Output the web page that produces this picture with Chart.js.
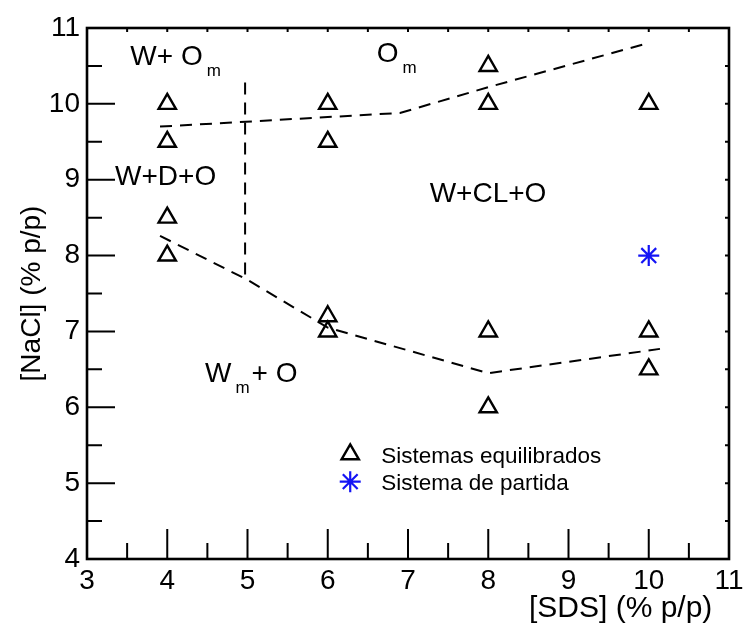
<!DOCTYPE html>
<html>
<head>
<meta charset="utf-8">
<script src="https://cdn.jsdelivr.net/npm/chart.js@4.4.1/dist/chart.umd.min.js"></script>
<style>
  html, body { margin: 0; background: #fff; }
</style>
</head>
<body>
<canvas id="chart" width="743" height="628"></canvas>
<script>
// === Data ===
const triX = [4, 4, 4, 4, 6, 6, 6, 6, 8, 8, 8, 8, 10, 10, 10];
const triY = [10, 9.5, 8.5, 8, 10, 9.5, 7.2, 7.0, 10.5, 10, 7, 6, 10, 7, 6.5];
const startX = [10];
const startY = [8];

const upperX = [3.91, 6.9, 8, 9.99];
const upperY = [9.70, 9.88, 10.22, 10.80];
const lowerX = [3.91, 5, 6, 8, 10.14];
const lowerY = [8.26, 7.68, 7.05, 6.45, 6.77];
const splitX = [4.97, 4.97];
const splitY = [10.28, 7.70];

const xTicks = [3, 4, 5, 6, 7, 8, 9, 10, 11];
const yTicks = [4, 5, 6, 7, 8, 9, 10, 11];

const legendNames = ["Sistemas equilibrados", "Sistema de partida"];

// region labels: [text, isSubscript]
const regionLabels = [
  { x: 3.54, y: 10.51, parts: [["W+ O", 0], ["m", 1]] },
  { x: 6.61, y: 10.55, parts: [["O", 0], ["m", 1]] },
  { x: 3.35, y: 8.93, parts: [["W+D+O", 0]] },
  { x: 7.27, y: 8.71, parts: [["W+CL+O", 0]] },
  { x: 4.47, y: 6.33, parts: [["W", 0], ["m", 1], ["+ O", 0]] },
];

const FONT = "'Liberation Sans', Arial, sans-serif";
const BLUE = "#1414f5";

const toPts = (xs, ys) => xs.map((x, i) => ({ x: x, y: ys[i] }));

const triStyle = { pointStyle: "triangle", radius: 10, borderWidth: 2.4, borderColor: "#000", backgroundColor: "#fff" };
const starStyle = { pointStyle: "star", radius: 10.5, borderWidth: 2.2, borderColor: BLUE, backgroundColor: BLUE };

// === Frame, inward ticks, labels, legend ===
const framePlugin = {
  id: "frame",
  afterDraw(chart) {
    const ctx = chart.ctx;
    const a = chart.chartArea;
    const xs = chart.scales.x;
    const ys = chart.scales.y;
    ctx.save();
    ctx.strokeStyle = "#000";
    ctx.lineWidth = 2;
    xs.ticks.forEach((t) => {
      const px = xs.getPixelForValue(t.value);
      const major = Number.isInteger(t.value);
      ctx.beginPath();
      ctx.moveTo(px, a.bottom);
      ctx.lineTo(px, a.bottom - (major ? 30 : 16));
      ctx.moveTo(px, a.top);
      ctx.lineTo(px, a.top + 4);
      ctx.stroke();
    });
    ys.ticks.forEach((t) => {
      const py = ys.getPixelForValue(t.value);
      const major = Number.isInteger(t.value);
      ctx.beginPath();
      ctx.moveTo(a.left, py);
      ctx.lineTo(a.left + (major ? 28 : 15), py);
      ctx.moveTo(a.right, py);
      ctx.lineTo(a.right - 4, py);
      ctx.stroke();
    });
    ctx.lineWidth = 2.6;
    ctx.strokeRect(a.left, a.top, a.right - a.left, a.bottom - a.top);

    // region labels
    ctx.fillStyle = "#000";
    ctx.textBaseline = "alphabetic";
    ctx.textAlign = "left";
    regionLabels.forEach((lab) => {
      let px = xs.getPixelForValue(lab.x);
      const py = ys.getPixelForValue(lab.y);
      lab.parts.forEach(([txt, sub]) => {
        if (sub) {
          ctx.font = "17px " + FONT;
          px += 4;
          ctx.fillText(txt, px, py + 11);
          px += ctx.measureText(txt).width + 2;
        } else {
          ctx.font = "28px " + FONT;
          ctx.fillText(txt, px, py);
          px += ctx.measureText(txt).width;
        }
      });
    });

    // legend
    const lx = xs.getPixelForValue(6.28);
    const rows = [
      { y: ys.getPixelForValue(5.38), style: triStyle },
      { y: ys.getPixelForValue(5.02), style: starStyle },
    ];
    ctx.font = "22.5px " + FONT;
    ctx.textBaseline = "middle";
    rows.forEach((r, i) => {
      ctx.lineWidth = r.style.borderWidth;
      ctx.strokeStyle = r.style.borderColor;
      ctx.fillStyle = r.style.backgroundColor;
      Chart.helpers.drawPoint(ctx, { pointStyle: r.style.pointStyle, radius: r.style.radius, rotation: 0, borderWidth: r.style.borderWidth }, lx, r.y);
      ctx.fillStyle = "#000";
      ctx.fillText(legendNames[i], lx + 31, r.y + 2);
    });
    ctx.restore();
  },
};

const dashed = { showLine: true, borderColor: "#000", borderWidth: 2, borderDash: [12, 8], pointRadius: 0, fill: false, tension: 0 };

new Chart(document.getElementById("chart"), {
  type: "scatter",
  data: {
    datasets: [
      Object.assign({ data: toPts(upperX, upperY) }, dashed),
      Object.assign({ data: toPts(lowerX, lowerY) }, dashed),
      Object.assign({ data: toPts(splitX, splitY) }, dashed),
      {
        data: toPts(triX, triY),
        pointStyle: triStyle.pointStyle,
        pointRadius: triStyle.radius,
        pointBorderWidth: triStyle.borderWidth,
        pointBorderColor: triStyle.borderColor,
        pointBackgroundColor: triStyle.backgroundColor,
      },
      {
        data: toPts(startX, startY),
        pointStyle: starStyle.pointStyle,
        pointRadius: starStyle.radius,
        pointBorderWidth: starStyle.borderWidth,
        pointBorderColor: starStyle.borderColor,
        pointBackgroundColor: starStyle.backgroundColor,
      },
    ],
  },
  options: {
    responsive: false,
    animation: false,
    devicePixelRatio: 1,
    layout: { padding: { top: 28, right: 14, left: 0, bottom: 0 } },
    plugins: { legend: { display: false }, tooltip: { enabled: false } },
    scales: {
      x: {
        type: "linear",
        min: 3,
        max: 11,
        grid: { display: false, drawTicks: false },
        border: { display: false },
        afterFit: (s) => { s.height = 69; s.paddingLeft = 0; s.paddingRight = 0; },
        ticks: {
          stepSize: 0.5,
          autoSkip: false,
          maxRotation: 0,
          padding: 5,
          color: "#000",
          font: { family: FONT, size: 28 },
          callback: (v) => (xTicks.includes(v) ? String(v) : ""),
        },
        title: {
          display: true,
          text: "[SDS] (% p/p)  ",
          align: "end",
          color: "#000",
          font: { family: FONT, size: 30 },
          padding: { top: 0, bottom: 1 },
        },
      },
      y: {
        type: "linear",
        min: 4,
        max: 11,
        grid: { display: false, drawTicks: false },
        border: { display: false },
        afterFit: (s) => { s.width = 87; },
        ticks: {
          stepSize: 0.5,
          autoSkip: false,
          padding: 7,
          color: "#000",
          font: { family: FONT, size: 28 },
          callback: (v) => (yTicks.includes(v) ? String(v) : ""),
        },
        title: {
          display: true,
          text: "[NaCl] (% p/p)",
          color: "#000",
          font: { family: FONT, size: 28 },
          padding: { top: 15, bottom: 0 },
        },
      },
    },
  },
  plugins: [framePlugin],
});
</script>
</body>
</html>
